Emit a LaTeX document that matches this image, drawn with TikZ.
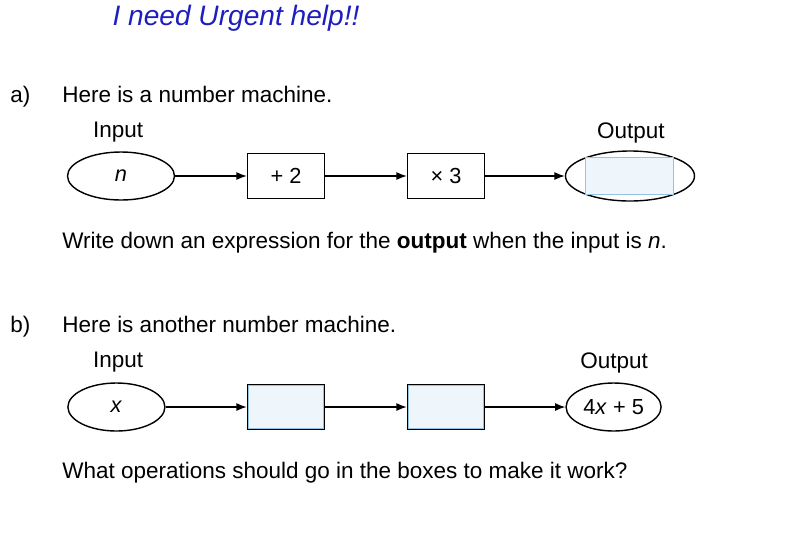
\documentclass[tikz,border=0pt]{standalone}
\usepackage{fontspec}
\setmainfont{Liberation Sans}
\usetikzlibrary{arrows.meta,positioning,shapes.geometric}
\definecolor{pen}{RGB}{30,30,190}
\definecolor{paleblue}{RGB}{150,195,225}
\definecolor{wash}{RGB}{238,246,252}
\tikzset{
  >={Latex[length=2.6mm,width=2mm]},
  txt/.style={anchor=base west,inner sep=0pt,font=\fontsize{16}{19}\selectfont},
  blob/.style={ellipse,draw,line width=1pt,inner sep=0pt,minimum height=12mm,
    font=\fontsize{15.5}{18}\selectfont},
  opbox/.style={draw,line width=1pt,inner sep=0pt,minimum width=19.25mm,minimum height=11.25mm,
    font=\fontsize{15.5}{18}\selectfont},
  blank/.style={opbox,fill=wash,path picture={
    \draw[paleblue,line width=2pt] (path picture bounding box.south west)
      rectangle (path picture bounding box.north east);}},
  flow/.style={->,line width=0.9pt},
}
\begin{document}
\begin{tikzpicture}
  \useasboundingbox (0,0) rectangle (20,-13.35);
  % handwritten note
  \node[font=\fontsize{20}{22}\selectfont\itshape,text=pen] (note) at (5.9,-0.45) {I need Urgent help!!};
  % part a
  \node[txt] (la) at (0.25,-2.55) {a)};
  \node[txt] (qa) at (1.55,-2.55) {Here is a number machine.};
  \node[txt] (ina) at (2.32,-3.43) {Input};
  \node[txt] (outa) at (14.92,-3.45) {Output};
  \node[blob,minimum width=26.75mm] (ia) at (3.025,-4.4) {\textit{n}};
  \node[opbox] (pa) at (7.15,-4.4) {+ 2};
  \node[opbox] (ma) at (11.15,-4.4) {× 3};
  \node[blob,minimum width=32.25mm,minimum height=12.5mm] (oa) at (15.75,-4.4) {};
  \node[draw=paleblue,fill=wash,minimum width=22mm,minimum height=9.25mm,inner sep=0pt] (ans) at (15.725,-4.39) {};
  \draw[flow] (ia) -- (pa);
  \draw[flow] (pa) -- (ma);
  \draw[flow] (ma) -- (oa);
  \node[txt] (wa) at (1.55,-6.2) {Write down an expression for the \textbf{output} when the input is \textit{n}.};
  % part b
  \node[txt] (lb) at (0.25,-8.3) {b)};
  \node[txt] (qb) at (1.55,-8.3) {Here is another number machine.};
  \node[txt] (inb) at (2.32,-9.18) {Input};
  \node[txt] (outb) at (14.5,-9.2) {Output};
  \node[blob,minimum width=24.25mm] (ib) at (2.91,-10.175) {\textit{x}};
  \node[blank] (pb) at (7.15,-10.175) {};
  \node[blank] (mb) at (11.15,-10.175) {};
  \node[blob,minimum width=23.75mm] (ob) at (15.34,-10.175) {4\textit{x} + 5};
  \draw[flow] (ib) -- (pb);
  \draw[flow] (pb) -- (mb);
  \draw[flow] (mb) -- (ob);
  \node[txt] (wb) at (1.55,-11.97) {What operations should go in the boxes to make it work?};
\end{tikzpicture}
\end{document}
